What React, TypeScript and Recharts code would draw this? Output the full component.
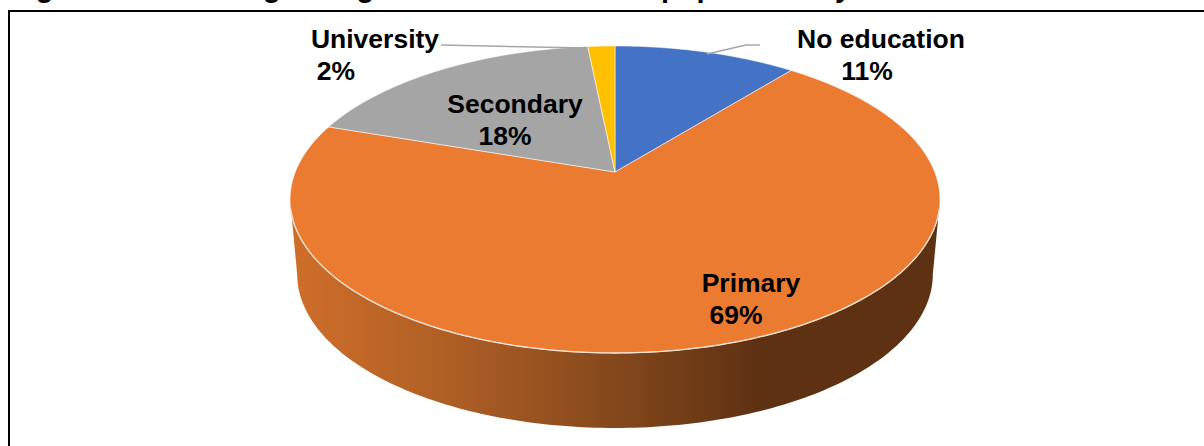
import { PieChart, Pie, Cell } from 'recharts';

const categories = ['No education', 'Primary', 'Secondary', 'University'];
const shares = [10.8, 69.4, 18.2, 1.6];
const percentLabels = ['11%', '69%', '18%', '2%'];
const colors = ['#4472C4', '#EB7B31', '#A5A5A5', '#FFC000'];

const TITLE = 'Figure 6: Percentage of agricultural household population by level of education';

const WIDTH = 1204;
const HEIGHT = 446;
const CX = 615;
const CY = 172;

// perspective projection of the pie disc, fitted to the picture
const TILT = 0.179;
const SCALE_X = 319.7;
const SCALE_Y = 148.6;
const WALL_DEPTH = 75;
const WALL_SHRINK = 0.978;

const project = (deg: number) => {
  const rad = (deg * Math.PI) / 180;
  const x = Math.cos(rad);
  const y = -Math.sin(rad);
  const d = 1 - TILT * y;
  return { x: CX + (SCALE_X * x) / d, y: CY + (SCALE_Y * y) / d };
};

const arcPoints = (from: number, to: number) => {
  const steps = Math.max(2, Math.ceil(Math.abs(to - from)));
  const pts = [];
  for (let i = 0; i <= steps; i++) pts.push(project(from + ((to - from) * i) / steps));
  return pts;
};

const toPath = (pts: { x: number; y: number }[]) =>
  pts.map((p, i) => `${i === 0 ? 'M' : 'L'}${p.x.toFixed(2)},${p.y.toFixed(2)}`).join(' ');

const TiltedSector = (props: any) => {
  const { startAngle, endAngle, fill, index } = props;
  const arc = arcPoints(startAngle, endAngle);
  const top = `M${CX},${CY} ${toPath(arc).replace('M', 'L')} Z`;
  const isPrimary = categories[index] === 'Primary';
  const rim = arcPoints(-10.3, -169.7);
  const lower = rim
    .map((p) => ({ x: CX + (p.x - CX) * WALL_SHRINK, y: p.y + WALL_DEPTH }))
    .reverse();
  return (
    <g>
      {isPrimary && (
        <path d={`${toPath(rim)} ${toPath(lower).replace('M', 'L')} Z`} fill="url(#wallGradient)" />
      )}
      <path d={top} fill={fill} stroke="#FFFFFF" strokeOpacity={0.55} strokeWidth={1} />
      {isPrimary && <path d={toPath(arcPoints(-14, -166))} fill="none" stroke="#F6E4D6" strokeWidth={1.3} />}
    </g>
  );
};

const labelLayout: Record<string, { name: [number, number]; pct: [number, number]; leader?: string }> = {
  'No education': { name: [881, 48], pct: [867, 80], leader: '707,54 746,45 760,45' },
  Primary: { name: [751, 292], pct: [736, 324] },
  Secondary: { name: [515, 113], pct: [505, 145] },
  University: { name: [375, 48], pct: [336, 80], leader: '441,45 587,48' },
};

const renderLabel = (props: any) => {
  const { index } = props;
  const layout = labelLayout[categories[index]];
  const textStyle = { fontFamily: '"Liberation Sans", Arial, sans-serif', fontWeight: 700, fontSize: 26.5 };
  return (
    <g key={categories[index]}>
      {layout.leader && <polyline points={layout.leader} fill="none" stroke="#A6A6A6" strokeWidth={1.5} />}
      <text x={layout.name[0]} y={layout.name[1]} textAnchor="middle" fill="#000" style={textStyle}>
        {categories[index]}
      </text>
      <text x={layout.pct[0]} y={layout.pct[1]} textAnchor="middle" fill="#000" style={textStyle}>
        {percentLabels[index]}
      </text>
    </g>
  );
};

export default function App() {
  const data = categories.map((name, i) => ({ name, value: shares[i] }));

  return (
    <div style={{ position: 'absolute', left: 0, top: 0, width: WIDTH, height: HEIGHT, overflow: 'hidden', background: '#fff' }}>
      <div
        style={{
          position: 'absolute',
          left: 10,
          top: -31,
          whiteSpace: 'nowrap',
          fontFamily: '"Liberation Sans", Arial, sans-serif',
          fontWeight: 700,
          fontSize: 29,
          lineHeight: '36px',
          color: '#000',
        }}
      >
        {TITLE}
      </div>
      <div style={{ position: 'absolute', left: 8, top: 10, width: WIDTH, height: HEIGHT, borderLeft: '2px solid #000', borderTop: '2px solid #000' }} />
      <div style={{ position: 'absolute', left: 0, top: 0 }}>
        <PieChart width={WIDTH} height={HEIGHT} margin={{ top: 0, right: 0, bottom: 0, left: 0 }}>
          <defs>
            <linearGradient id="wallGradient" gradientUnits="userSpaceOnUse" x1="292" y1="0" x2="760" y2="0">
              <stop offset="0%" stopColor="#CF6E2A" />
              <stop offset="35%" stopColor="#AD5E25" />
              <stop offset="70%" stopColor="#83471C" />
              <stop offset="100%" stopColor="#5E3112" />
            </linearGradient>
          </defs>
          <Pie
            data={data}
            dataKey="value"
            nameKey="name"
            cx={CX}
            cy={CY}
            innerRadius={0}
            outerRadius={150}
            startAngle={90}
            endAngle={-270}
            paddingAngle={0}
            isAnimationActive={false}
            shape={TiltedSector}
            label={renderLabel}
            labelLine={false}
          >
            {data.map((entry, i) => (
              <Cell key={entry.name} fill={colors[i]} />
            ))}
          </Pie>
        </PieChart>
      </div>
    </div>
  );
}
